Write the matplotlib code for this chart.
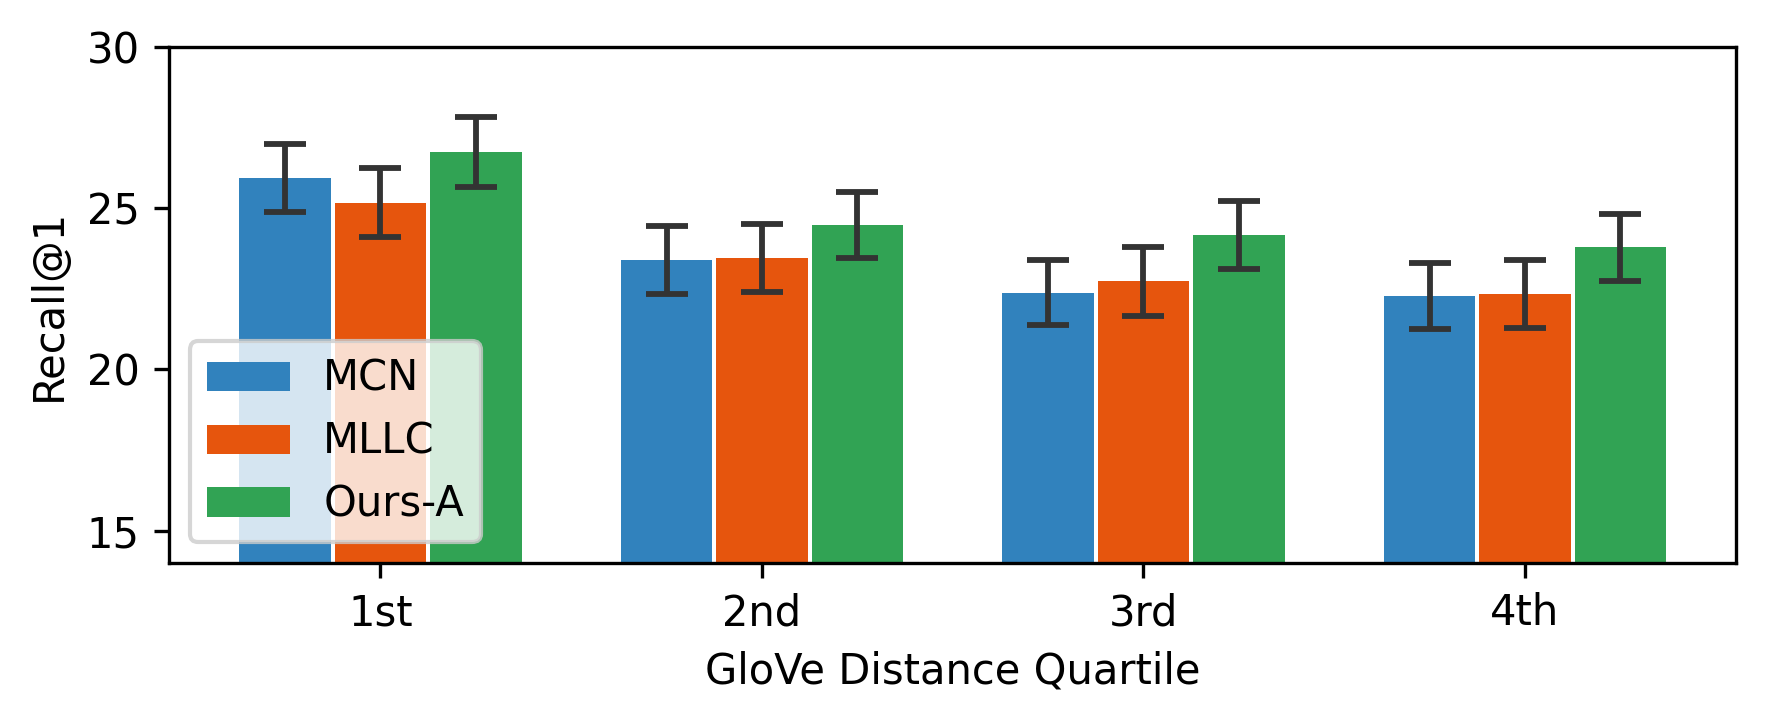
import matplotlib
matplotlib.use('Agg')
import matplotlib.pyplot as plt
import numpy as np

quartiles = ['1st', '2nd', '3rd', '4th']
methods = ['MCN', 'MLLC', 'Ours-A']
colors = ['#3182bd', '#e6550d', '#31a354']

mcn = [25.94, 23.39, 22.38, 22.27]
mllc = [25.17, 23.46, 22.73, 22.34]
ours = [26.75, 24.48, 24.16, 23.78]

mcn_err = [1.05, 1.05, 1.0, 1.03]
mllc_err = [1.06, 1.05, 1.07, 1.05]
ours_err = [1.08, 1.03, 1.05, 1.05]

values = [mcn, mllc, ours]
errors = [mcn_err, mllc_err, ours_err]

fig, ax = plt.subplots(figsize=(5.9, 2.4), dpi=300)
fig.subplots_adjust(left=0.0955, right=0.981, top=0.935, bottom=0.218)

x = np.arange(len(quartiles))
step = 0.25
for i, (name, vals, errs, c) in enumerate(zip(methods, values, errors, colors)):
    ax.bar(x + (i - 1) * step, vals, 0.24, yerr=errs, color=c, label=name,
           linewidth=0,
           error_kw=dict(ecolor='#333333', elinewidth=1.4, capsize=5, capthick=1.4))

ax.set_ylim(14, 30)
ax.set_yticks([15, 20, 25, 30])
ax.set_xlim(-0.554, 3.554)
ax.set_xticks(x)
ax.set_xticklabels(quartiles)
ax.set_xlabel('GloVe Distance Quartile')
ax.set_ylabel('Recall@1')
ax.legend(loc='lower left')

fig.savefig('out.png', dpi=300)
